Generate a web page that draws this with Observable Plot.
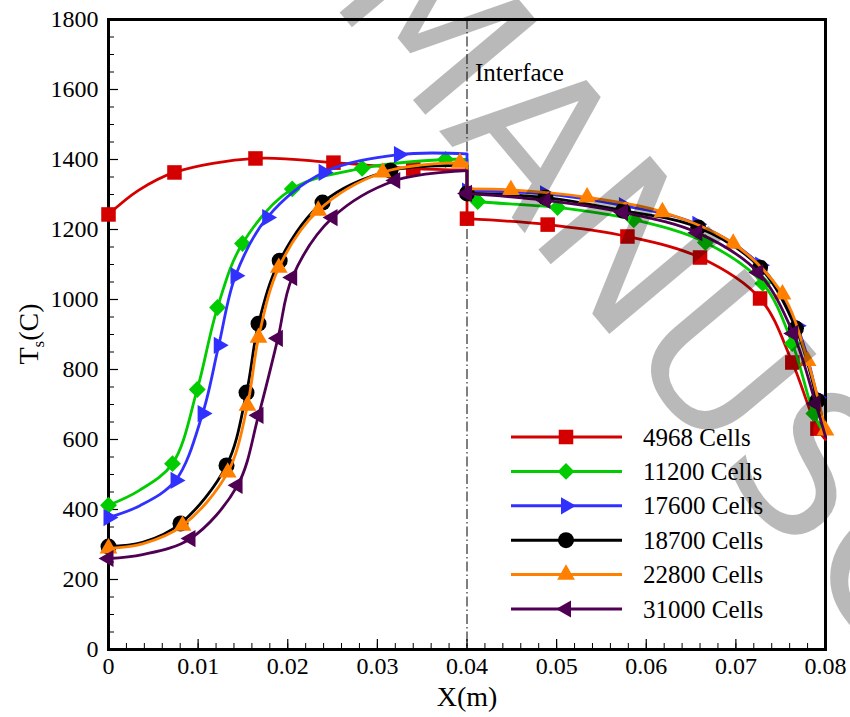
<!DOCTYPE html>
<html><head><meta charset="utf-8">
<script src="https://cdn.jsdelivr.net/npm/d3@7"></script>
<script src="https://cdn.jsdelivr.net/npm/@observablehq/plot@0.6"></script>
<style>
body{margin:0;background:#fff;}
#chart{width:850px;height:717px;}
</style></head><body><div id="chart"></div>
<script>
// ---- series meta ----
const seriesNames = ["4968 Cells","11200 Cells","17600 Cells","18700 Cells","22800 Cells","31000 Cells"];
const seriesColors = ["#d40000","#00cc00","#3030ff","#000000","#ff7f00","#500052"];
const seriesSymbols = ["square","diamond2","triangle","circle","triangle","triangle"];
const seriesRotate = [0,0,90,0,0,-90];
const seriesR = [8.2,7.6,6.4,8,6.6,6.4];

// ---- data: X (m), Ts (C), marker flag; X restarts at the interface 0.04 ----
const x4968 = [0,0.0033,0.00736,0.0164,0.0251,0.034,0.04, 0.04,0.049,0.0579,0.066,0.0727,0.0763,0.0791,0.08];
const t4968 = [1243,1311,1363,1403,1391,1374,1370, 1231,1214,1180,1120,1003,820,631,600];
const m4968 = [1,0,1,1,1,1,0, 1,1,1,1,1,1,1,0];

const x11200 = [0,0.0034,0.00714,0.0099,0.01216,0.01495,0.0205,0.0283,0.0376,0.04, 0.04,0.0412,0.0501,0.0586,0.0666,0.073,0.0763,0.0787,0.08];
const t11200 = [412,454,531,743,977,1160,1316,1375,1400,1400, 1286,1280,1263,1228,1163,1046,874,674,610];
const m11200 = [1,0,1,1,1,1,1,1,1,0, 0,1,1,1,1,1,1,1,0];

const x17600 = [0,0.0035,0.00748,0.0105,0.0123,0.01417,0.0177,0.024,0.0324,0.04, 0.04,0.0487,0.0575,0.0657,0.0727,0.0768,0.0791,0.08];
const t17600 = [377,411,483,674,869,1068,1234,1363,1414,1416, 1310,1302,1268,1215,1098,925,720,615];
const m17600 = [1,0,1,1,1,1,1,1,1,0, 1,1,1,1,1,1,1,0];

const x18700 = [0,0.0038,0.00803,0.01317,0.0154,0.01674,0.0191,0.02388,0.03146,0.04, 0.04,0.04875,0.0574,0.0658,0.0727,0.0767,0.0791,0.08];
const t18700 = [294,306,360,526,734,931,1111,1277,1368,1382, 1303,1291,1254,1206,1091,917,711,612];
const m18700 = [1,0,1,1,1,1,1,1,1,0, 1,1,1,1,1,1,1,0];

const x22800 = [0,0.0038,0.00826,0.0133,0.0155,0.01674,0.019,0.0234,0.0306,0.0392,0.04, 0.04,0.0449,0.0534,0.0618,0.0697,0.0752,0.078,0.08];
const t22800 = [289,302,354,506,697,891,1091,1254,1363,1391,1390, 1316,1313,1292,1250,1160,1015,825,626];
const m22800 = [1,0,1,1,1,1,1,1,1,1,0, 0,1,1,1,1,1,1,1];

const x31000 = [0,0.0038,0.00915,0.0144,0.01674,0.0189,0.0205,0.025,0.032,0.04, 0.04,0.04875,0.0574,0.0657,0.0725,0.0764,0.0789,0.08];
const t31000 = [260,271,317,469,669,889,1063,1234,1340,1368, 1303,1283,1249,1191,1077,903,703,608];
const m31000 = [1,0,1,1,1,1,1,1,1,0, 1,1,1,1,1,1,1,0];

// ---- axes / labels ----
const xTicks = [0,0.01,0.02,0.03,0.04,0.05,0.06,0.07,0.08];
const xTickLabels = ["0","0.01","0.02","0.03","0.04","0.05","0.06","0.07","0.08"];
const yTicks = [0,200,400,600,800,1000,1200,1400,1600,1800];
const yTickLabels = ["0","200","400","600","800","1000","1200","1400","1600","1800"];
const xLabel = "X(m)";
const interfaceX = 0.04;
const interfaceLabel = "Interface";
const watermarkText = "MANUSCRIPT";

const seriesX = [x4968,x11200,x17600,x18700,x22800,x31000];
const seriesT = [t4968,t11200,t17600,t18700,t22800,t31000];
const seriesM = [m4968,m11200,m17600,m18700,m22800,m31000];

function buildRows(name, xs, ts, ms) {
  let seg = 0;
  return xs.map((x, i) => {
    if (i > 0 && x <= xs[i - 1]) seg++;
    return {series: name, x, t: ts[i], marker: ms[i] === 1, seg: name + "-" + seg, segIndex: seg};
  });
}

const W = 850, H = 717, mL = 108, mR = 25, mT = 19, mB = 68;
const plotW = W - mL - mR, plotH = H - mT - mB;
const xMinor = d3.range(0, 41).map(i => i * 0.002);
const yMinor = d3.range(0, 37).map(i => i * 50);

const marks = [
  Plot.frame({stroke: "black", strokeWidth: 3}),
  Plot.ruleX(xMinor, {x: d => d, insetTop: plotH - 6, stroke: "black", strokeWidth: 1}),
  Plot.ruleX(xTicks, {x: d => d, insetTop: plotH - 10, stroke: "black", strokeWidth: 1.2}),
  Plot.ruleY(yMinor, {y: d => d, insetRight: plotW - 6, stroke: "black", strokeWidth: 1}),
  Plot.ruleY(yTicks, {y: d => d, insetRight: plotW - 10, stroke: "black", strokeWidth: 1.2}),
  Plot.axisX({ticks: xTicks, tickSize: 0, tickPadding: 7, label: null, fontSize: 24,
    tickFormat: d => xTickLabels[xTicks.indexOf(d)]}),
  Plot.axisY({ticks: yTicks, tickSize: 0, tickPadding: 10, label: null, fontSize: 24,
    tickFormat: d => yTickLabels[yTicks.indexOf(d)]}),
  Plot.ruleX([interfaceX], {x: d => d, stroke: "black", strokeWidth: 1, strokeDasharray: "10,3,1.5,3"}),
  Plot.text([interfaceLabel], {x: () => interfaceX, frameAnchor: "top", text: d => d, textAnchor: "start",
    lineAnchor: "middle", dx: 8, dy: 53, fontSize: 25}),
  Plot.text([xLabel], {frameAnchor: "bottom", text: d => d, lineAnchor: "middle", dy: 48, fontSize: 28})
];

seriesNames.forEach((name, i) => {
  const rows = buildRows(name, seriesX[i], seriesT[i], seriesM[i]);
  const left = rows.filter(d => d.segIndex === 0);
  const right = rows.filter(d => d.segIndex === 1);
  const jump = [{x: left[left.length - 1].x, t1: left[left.length - 1].t, t2: right[0].t}];
  marks.push(Plot.line(rows, {x: "x", y: "t", z: "seg", stroke: seriesColors[i], strokeWidth: 2.8, curve: "catmull-rom"}));
  marks.push(Plot.link(jump, {x1: "x", y1: "t1", x2: "x", y2: "t2", stroke: seriesColors[i], strokeWidth: 2.8}));
  marks.push(Plot.dot(rows.filter(d => d.marker), {x: "x", y: "t", symbol: seriesSymbols[i], r: seriesR[i],
    fill: seriesColors[i], stroke: "none", rotate: seriesRotate[i]}));
});

const plot = Plot.plot({
  width: W, height: H,
  marginLeft: mL, marginRight: mR, marginTop: mT, marginBottom: mB,
  x: {domain: [0, 0.08]},
  y: {domain: [0, 1800]},
  style: {fontFamily: "'Liberation Serif', 'Times New Roman', serif", fontSize: "24px", color: "black", background: "white", overflow: "hidden"},
  marks
});
document.getElementById("chart").appendChild(plot);

// ---- overlay: legend, y label, watermark ----
const svg = d3.select(plot);
const symbolTypes = {square: d3.symbolSquare, diamond2: d3.symbolDiamond2, triangle: d3.symbolTriangle, circle: d3.symbolCircle};
const lg = svg.append("g").attr("font-family", "'Liberation Serif', serif").attr("font-size", 25)
  .attr("fill", "black").attr("text-anchor", "start");
seriesNames.forEach((name, i) => {
  const y = 437 + i * 34.4;
  lg.append("line").attr("x1", 511).attr("x2", 622).attr("y1", y).attr("y2", y)
    .attr("stroke", seriesColors[i]).attr("stroke-width", 3);
  lg.append("path").attr("d", d3.symbol(symbolTypes[seriesSymbols[i]], seriesR[i] * seriesR[i] * Math.PI)())
    .attr("transform", `translate(566,${y}) rotate(${seriesRotate[i]})`).attr("fill", seriesColors[i]);
  lg.append("text").attr("x", 643).attr("y", y + 8.5).text(name);
});

const yl = svg.append("text").attr("transform", "translate(38,334) rotate(-90)").attr("text-anchor", "middle")
  .attr("font-family", "'Liberation Serif', serif").attr("font-size", 28).attr("fill", "black");
yl.append("tspan").text("T");
yl.append("tspan").attr("font-size", 17).attr("dy", 6).text("s");
yl.append("tspan").attr("dy", -6).text("(C)");

svg.append("text").attr("transform", "translate(327,-2.5) rotate(50)").attr("text-anchor", "start")
  .attr("font-family", "'DejaVu Sans', sans-serif").attr("font-size", 200)
  .attr("fill", "#000").attr("fill-opacity", 0.275).text(watermarkText);
</script></body></html>
